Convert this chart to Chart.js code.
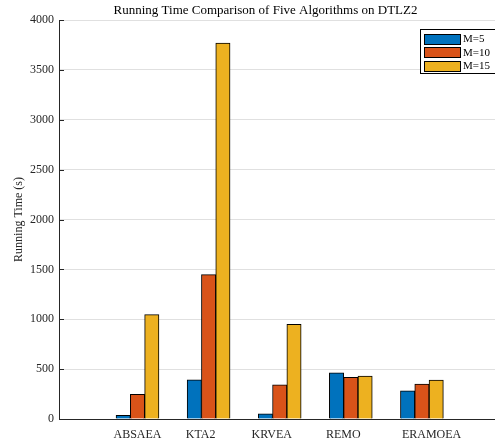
<!DOCTYPE html>
<html><head><meta charset="utf-8">
<script src="https://cdn.jsdelivr.net/npm/chart.js@4"></script>
<style>html,body{margin:0;padding:0;background:#fff}</style>
</head><body>
<canvas id="c" width="495" height="444"></canvas>
<script>
const categories = ['ABSAEA', 'KTA2', 'KRVEA', 'REMO', 'ERAMOEA'];
const seriesNames = ['M=5', 'M=10', 'M=15'];
const m5Values = [37, 393, 53, 463, 283];
const m10Values = [247, 1447, 343, 418, 350];
const m15Values = [1046, 3768, 950, 430, 390];
const yTickStep = 500;
const yMax = 4000;
const titleText = 'Running Time Comparison of Five Algorithms on DTLZ2';
const yTitleText = 'Running Time (s)';

// style / layout
const colors = ['#0072BD', '#D95319', '#EDB120'];
const labelShift = [0, -0.1125, -0.1125, -0.105, 0.136];
const FONT = '"Liberation Serif", "Times New Roman", serif';

const seriesValues = [m5Values, m10Values, m15Values];
const datasets = seriesNames.map((name, i) => ({
  label: name,
  data: seriesValues[i].map((v, j) => ({x: j + 1, y: v})),
  backgroundColor: colors[i],
  borderColor: '#000',
  borderWidth: 1,
  barThickness: 14.3
}));

const decorPlugin = {
  id: 'decor',
  afterDraw(chart) {
    const ctx = chart.ctx;
    const area = chart.chartArea;
    const ys = chart.scales.y;
    ctx.save();
    // inner tick marks on y axis
    ctx.strokeStyle = '#262626';
    ctx.lineWidth = 1;
    ys.ticks.forEach(t => {
      const y = Math.round(ys.getPixelForValue(t.value)) + 0.5;
      ctx.beginPath();
      ctx.moveTo(area.left, y);
      ctx.lineTo(area.left + 5, y);
      ctx.stroke();
    });
    // title
    ctx.fillStyle = '#000';
    ctx.font = '13px ' + FONT;
    ctx.textAlign = 'center';
    ctx.textBaseline = 'middle';
    ctx.fillText(titleText, 265.5, 11);
    // legend
    const x0 = 420.5, y0 = 29.5, w = 80, h = 44;
    ctx.fillStyle = '#fff';
    ctx.fillRect(x0, y0, w, h);
    ctx.strokeStyle = '#000';
    ctx.strokeRect(x0, y0, w, h);
    ctx.font = '11px ' + FONT;
    ctx.textAlign = 'left';
    chart.data.datasets.forEach((ds, i) => {
      const cy = 38.5 + i * 13.7;
      ctx.fillStyle = ds.backgroundColor;
      ctx.fillRect(424.5, Math.round(cy - 5) + 0.5, 36, 10);
      ctx.strokeRect(424.5, Math.round(cy - 5) + 0.5, 36, 10);
      ctx.fillStyle = '#000';
      ctx.fillText(ds.label, 463, cy + 0.5);
    });
    ctx.restore();
  }
};

new Chart(document.getElementById('c'), {
  type: 'bar',
  data: { datasets },
  options: {
    responsive: false,
    devicePixelRatio: 1,
    animation: false,
    layout: { padding: { left: 0, right: 0, top: 20, bottom: 0 } },
    plugins: {
      legend: { display: false },
      title: { display: false },
      tooltip: { enabled: false }
    },
    scales: {
      x: {
        type: 'linear',
        min: -0.104,
        max: 6.028,
        offset: false,
        grid: { display: false, drawTicks: false },
        border: { display: true, color: '#262626', width: 1 },
        afterBuildTicks: (scale) => {
          scale.ticks = categories.map((c, i) => ({ value: i + 1 + labelShift[i] }));
        },
        afterFit: (scale) => { scale.height = 25; },
        ticks: {
          autoSkip: false,
          maxRotation: 0,
          padding: 9,
          color: '#262626',
          font: { family: FONT, size: 12 },
          callback: (v, i) => categories[i]
        }
      },
      y: {
        min: 0,
        max: yMax,
        afterFit: (scale) => { scale.width = 59; },
        grid: { color: '#e0e0e0', drawTicks: false },
        border: { display: true, color: '#262626', width: 1 },
        ticks: {
          stepSize: yTickStep,
          padding: 5,
          color: '#262626',
          font: { family: FONT, size: 12 },
          callback: (v) => String(v)
        },
        title: {
          display: true,
          text: yTitleText,
          color: '#262626',
          font: { family: FONT, size: 12 },
          padding: { top: 12, bottom: 0 }
        }
      }
    }
  },
  plugins: [decorPlugin]
});
</script>
</body></html>
